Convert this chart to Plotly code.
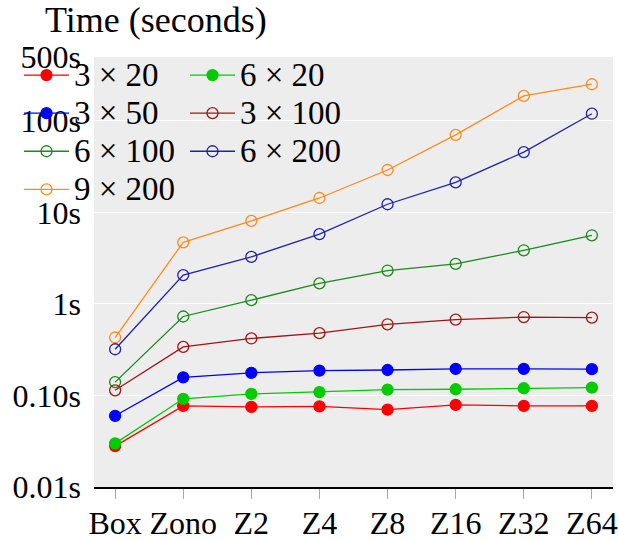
import plotly.graph_objects as go

categories = ["Box", "Zono", "Z2", "Z4", "Z8", "Z16", "Z32", "Z64"]
tick_labels = ["Box", "Zono", "Z2", "Z4", "Z8", "Z16", "Z32", "Z64"]

s_3x20 = [0.028, 0.077, 0.075, 0.076, 0.070, 0.079, 0.077, 0.077]
s_6x20 = [0.030, 0.092, 0.104, 0.109, 0.116, 0.117, 0.120, 0.122]
s_3x50 = [0.060, 0.158, 0.177, 0.187, 0.190, 0.195, 0.195, 0.194]
s_3x100 = [0.114, 0.34, 0.42, 0.48, 0.60, 0.675, 0.72, 0.71]
s_6x100 = [0.14, 0.73, 1.10, 1.68, 2.32, 2.74, 3.86, 5.63]
s_6x200 = [0.32, 2.07, 3.27, 5.8, 12.3, 21.3, 45.7, 120]
s_9x200 = [0.43, 4.72, 8.1, 14.4, 29.1, 70.5, 188, 252]

y_tickvals = [0.01, 0.1, 1, 10, 100, 500]
y_ticktext = ["0.01s", "0.10s", "1s", "10s", "100s", "500s"]

FONT = "Liberation Serif"

series = [
    ("3 × 20", s_3x20, "#ff0000", "circle", "legend"),
    ("3 × 50", s_3x50, "#0000ff", "circle", "legend"),
    ("6 × 100", s_6x100, "#1a8a1a", "circle-open", "legend"),
    ("9 × 200", s_9x200, "#ff8c1a", "circle-open", "legend"),
    ("6 × 20", s_6x20, "#00cc00", "circle", "legend2"),
    ("3 × 100", s_3x100, "#a01515", "circle-open", "legend2"),
    ("6 × 200", s_6x200, "#2222aa", "circle-open", "legend2"),
]

fig = go.Figure()
for name, vals, color, sym, leg in series:
    fig.add_trace(go.Scatter(
        x=categories, y=vals,
        name="<span style='font-size:33px'>" + name + "</span>",
        mode="lines+markers",
        line=dict(color=color, width=1.3),
        marker=dict(symbol=sym, size=11, color=color,
                    line=dict(color=color, width=1.3)),
        legend=leg,
    ))

legend_common = dict(
    bgcolor="rgba(0,0,0,0)", borderwidth=0,
    font=dict(family=FONT, size=27, color="black"),
    itemwidth=45, tracegroupgap=0,
    xref="container", yref="container",
    xanchor="left", yanchor="top",
)

fig.update_layout(
    width=619, height=540,
    margin=dict(l=94, r=6, t=57, b=53, autoexpand=False),
    paper_bgcolor="white",
    plot_bgcolor="#ededed",
    font=dict(family=FONT, size=32, color="black"),
    title=dict(text="Time (seconds)", font=dict(family=FONT, size=36, color="black"),
               xref="container", yref="container", x=45 / 619, xanchor="left",
               y=1 - 7 / 540, yanchor="top"),
    xaxis=dict(
        type="category", categoryorder="array", categoryarray=categories,
        tickvals=categories, ticktext=tick_labels,
        range=[-0.31, 7.31], automargin=False, tickangle=0,
        showgrid=False, showline=True, linecolor="black", linewidth=1.5,
        ticks="outside", ticklen=10, tickcolor="#aaaaaa", tickwidth=1,
        ticklabelstandoff=-3,
        tickfont=dict(family=FONT, size=32, color="black"),
        zeroline=False,
    ),
    yaxis=dict(
        type="log", range=[-2, 2.699], automargin=False,
        tickvals=y_tickvals, ticktext=y_ticktext,
        showgrid=True, gridcolor="white", gridwidth=1.2,
        showline=False, ticks="", ticklabelstandoff=12,
        tickfont=dict(family=FONT, size=32, color="black"),
        zeroline=False,
    ),
    legend=dict(x=19 / 619, y=1 - 51 / 540, **legend_common),
    legend2=dict(x=185 / 619, y=1 - 51 / 540, **legend_common),
)

fig.write_html("out.html")
